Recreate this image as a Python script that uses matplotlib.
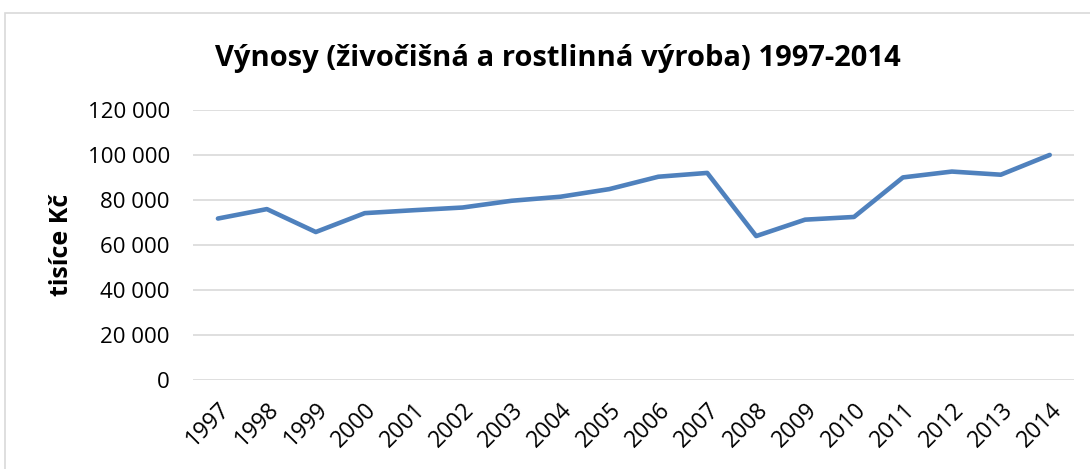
import numpy as np
import matplotlib.pyplot as plt
from matplotlib.patches import Rectangle

# roky a výnosy (tisíce Kč)
roky = ["1997", "1998", "1999", "2000", "2001", "2002", "2003", "2004", "2005",
        "2006", "2007", "2008", "2009", "2010", "2011", "2012", "2013", "2014"]
vynosy = [71800, 76000, 65800, 74200, 75500, 76700, 79700, 81500, 84900,
          90400, 92100, 64000, 71300, 72500, 90100, 92700, 91300, 100100]
y_ticks = [0, 20000, 40000, 60000, 80000, 100000, 120000]

plt.rcParams['font.family'] = ['Open Sans', 'DejaVu Sans']

fig = plt.figure(figsize=(10.9, 4.69), dpi=100)
ax = fig.add_axes([0.1775, 0.19, 0.808, 0.575])

# rámeček grafu
fig.patches.append(Rectangle((5 / 1090, -0.01), 1.1, 1 - 13 / 469 + 0.01,
                             transform=fig.transFigure, fill=False,
                             edgecolor='#d9d9d9', linewidth=1.2))

x = np.arange(len(roky))
ax.plot(x, vynosy, color='#4F81BD', linewidth=3.3, solid_capstyle='round')

ax.set_xlim(-0.5, len(roky) - 0.5)
ax.set_ylim(0, 120000)
ax.set_yticks(y_ticks)
ax.set_yticklabels([f"{v:,}".replace(",", " ") for v in y_ticks], fontsize=16)
ax.set_xticks(x)
ax.set_xticklabels(roky, rotation=45, ha='right', rotation_mode='anchor', fontsize=16.5)
ax.tick_params(axis='y', length=0, pad=17)
ax.tick_params(axis='x', length=0, pad=13)

ax.grid(axis='y', color='#d9d9d9', linewidth=1.2)
ax.set_axisbelow(True)
for s in ax.spines.values():
    s.set_visible(False)

ax.set_ylabel("tisíce Kč", fontsize=18, fontweight='bold', labelpad=10)
fig.text(0.512, 0.875, "Výnosy (živočišná a rostlinná výroba) 1997-2014",
         ha='center', va='center', fontsize=21, fontweight='bold')

fig.savefig("out.png", dpi=100)
